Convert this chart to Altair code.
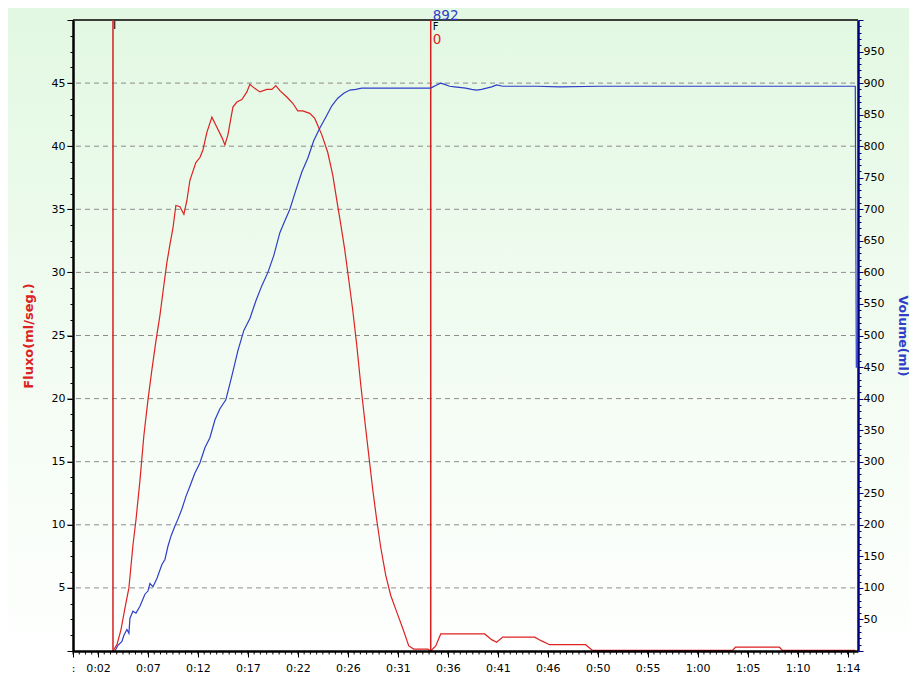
import altair as alt
import pandas as pd

# ---------------- data ----------------
FLOW_T = [3.84, 4.22, 4.61, 4.99, 5.37, 5.76, 6.05, 6.43, 6.81, 7.20, 7.58, 7.97, 8.35, 8.73,
          9.02, 9.31, 9.60, 9.88, 10.27, 10.65, 10.94, 11.23, 11.80, 12.19, 12.48, 12.86, 13.34,
          13.82, 14.30, 14.59, 14.88, 15.36, 15.74, 16.22, 16.70, 16.99, 17.27, 17.95, 18.62,
          19.10, 19.48, 19.87, 20.54, 21.11, 21.59, 22.07, 22.74, 23.22, 23.90, 24.47, 24.95,
          25.34, 25.72, 26.10, 26.49, 26.87, 27.26, 27.64, 28.02, 28.41, 28.79, 29.17, 29.56,
          30.04, 30.52, 31.09, 31.67, 32.25, 32.73, 34.07, 34.36, 34.84, 35.32, 39.54, 40.21,
          40.69, 41.27, 44.34, 45.01, 45.78, 49.23, 49.90, 63.34, 63.63, 67.85, 68.14, 75.14]
FLOW_V = [0.0, 0.5, 1.7, 3.4, 5.0, 8.4, 10.4, 13.5, 17.1, 19.9, 22.3, 24.6, 26.6, 29.0,
          30.8, 32.2, 33.5, 35.3, 35.2, 34.6, 35.7, 37.3, 38.7, 39.1, 39.7, 41.1, 42.3,
          41.5, 40.7, 40.1, 40.9, 43.1, 43.5, 43.7, 44.3, 44.9, 44.7, 44.3, 44.5,
          44.5, 44.8, 44.4, 43.9, 43.4, 42.8, 42.8, 42.6, 42.2, 40.9, 39.5, 37.7,
          35.7, 33.8, 31.8, 29.4, 27.0, 24.2, 21.1, 18.3, 15.5, 12.8, 10.4, 8.2,
          6.0, 4.4, 3.1, 1.8, 0.4, 0.15, 0.15, 0.0, 0.4, 1.35, 1.35, 0.9,
          0.7, 1.1, 1.1, 0.8, 0.5, 0.5, 0.05, 0.05, 0.3, 0.3, 0.05, 0.05]

VOL_T = [3.84, 4.03, 4.32, 4.70, 4.89, 5.18, 5.37, 5.47, 5.76, 6.05, 6.43, 6.91, 7.20, 7.39,
         7.68, 8.06, 8.54, 8.83, 9.12, 9.41, 9.79, 10.08, 10.46, 10.85, 11.23, 11.71, 12.19,
         12.67, 13.15, 13.63, 14.11, 14.68, 15.26, 15.84, 16.41, 16.99, 17.57, 18.14, 18.72,
         19.29, 19.87, 20.35, 20.83, 21.40, 21.98, 22.55, 23.13, 23.71, 24.28, 24.86, 25.43,
         26.01, 26.59, 27.16, 27.74, 34.36, 34.93, 35.32, 35.70, 36.18, 36.66, 37.72, 38.29,
         38.77, 39.25, 39.73, 40.21, 40.69, 41.27, 44.53, 46.74, 50.58, 55.37, 60.17, 64.97,
         75.14, 75.24]
VOL_V = [0, 0, 9, 15, 25, 34, 28, 52, 63, 60, 71, 90, 95, 107,
         102, 115, 137, 145, 166, 182, 198, 209, 225, 245, 261, 282, 298,
         322, 338, 366, 384, 398, 436, 476, 508, 527, 555, 579, 600,
         627, 663, 682, 700, 730, 759, 781, 809, 829, 846, 864, 876,
         884, 889, 890, 892, 892, 897, 900, 898, 895, 894, 892, 890,
         889, 890, 892, 894, 897, 895, 895, 894, 895, 895, 895, 895,
         895, 449]

MARK_T = [3.84, 34.36]
MARK_NAMES = ["I", "F"]
F_VOLUME_LABEL = ["892"]
F_FLOW_LABEL = ["0"]

X_TICK_POS = [0, 2.4, 7.2, 12.0, 16.8, 21.6, 26.4, 31.2, 36.0, 40.8, 45.6, 50.4, 55.2,
              60.0, 64.8, 69.6, 74.4]
X_TICK_LABELS = [":", "0:02", "0:07", "0:12", "0:17", "0:22", "0:26", "0:31", "0:36",
                 "0:41", "0:46", "0:50", "0:55", "1:00", "1:05", "1:10", "1:14"]
X_MINOR_STEP = 0.6
FLOW_GRID = [5, 10, 15, 20, 25, 30, 35, 40, 45]

# ---------------- layout ----------------
W, H = 785, 631
FONT = "DejaVu Sans"
RED = "#dd2222"
BLUE = "#2e3ec8"

flow_df = pd.DataFrame({"t": FLOW_T, "flow": FLOW_V})
vol_df = pd.DataFrame({"t": VOL_T, "vol": VOL_V})
mark_df = pd.DataFrame({"t": MARK_T, "name": MARK_NAMES})
grid_df = pd.DataFrame({"t": [0.0] * len(FLOW_GRID), "g": FLOW_GRID})
dummy = pd.DataFrame({"t": [0.0]})
f_df = pd.DataFrame({"t": [MARK_T[1]], "vol": F_VOLUME_LABEL, "flow": F_FLOW_LABEL, "name": ["F"]})
i_df = pd.DataFrame({"t": [MARK_T[0]], "name": ["I"]})
x_minor_df = pd.DataFrame({"t": [round(X_MINOR_STEP * k, 1) for k in range(0, 126)]})

x_label_expr = " : ".join(
    f"datum.value == {repr(v)} ? '{lab}'" for v, lab in zip(X_TICK_POS, X_TICK_LABELS)
) + " : ''"

x_scale = alt.Scale(domain=[0, 75.4], nice=False, zero=False)
x_axis = alt.Axis(
    values=X_TICK_POS, labelExpr=x_label_expr, title="", grid=False,
    domainColor="black", domainWidth=2.5, tickColor="black", tickWidth=1, tickSize=6,
    labelFont=FONT, labelFontSize=11, labelColor="black", labelPadding=5,
    labelOverlap=False, labelFlush=False, labelBound=False, zindex=2,
)


def X():
    return alt.X("t:Q", scale=x_scale, axis=x_axis)


flow_scale = alt.Scale(domain=[0, 50], nice=False, zero=True)
flow_axis = alt.Axis(
    orient="left", values=[1.25 * k for k in range(0, 41)],
    labelExpr="(datum.value % 5 == 0 && datum.value > 0 && datum.value < 50) ? datum.value : ''",
    grid=False, domainColor="black", domainWidth=2.5, tickColor="black",
    tickSize={"condition": {"test": "datum.value % 5 == 0", "value": 6}, "value": 3},
    labelFont=FONT, labelFontSize=11, labelColor="black", labelPadding=2,
    labelOverlap=False, labelFlush=False, labelBound=False,
    title="Fluxo(ml/seg.)", titleColor=RED, titleFont=FONT, titleFontSize=13,
    titleFontWeight="bold", titleAngle=270, titleAlign="center", titleBaseline="middle",
    titleX=-45, titleY=H / 2, zindex=2,
)

vol_scale = alt.Scale(domain=[0, 1000], nice=False, zero=True)
vol_axis = alt.Axis(
    orient="right", values=list(range(0, 1001, 10)),
    labelExpr="(datum.value % 50 == 0 && datum.value > 0 && datum.value < 1000) ? datum.value : ''",
    grid=False, domainColor="#00007a", domainWidth=2.5, tickColor="#00007a",
    tickSize={"condition": {"test": "datum.value % 50 == 0", "value": 5}, "value": 3},
    labelFont=FONT, labelFontSize=11, labelColor="black", labelPadding=0,
    labelOverlap=False, labelFlush=False, labelBound=False,
    title="Volume(ml)", titleColor=BLUE, titleFont=FONT, titleFontSize=12.5,
    titleFontWeight="bold", titleAngle=90, titleAlign="center", titleBaseline="middle",
    titleX=44, titleY=H / 2, zindex=2,
)

gradient = alt.LinearGradient(
    gradient="linear",
    stops=[alt.GradientStop(color="#e2f8e2", offset=0),
           alt.GradientStop(color="#f3fcf3", offset=0.55),
           alt.GradientStop(color="#ffffff", offset=1)],
    x1=0, x2=0, y1=0, y2=1,
)

bg = alt.Chart(dummy).mark_rect(color=gradient).encode(
    x=alt.value(-65), x2=alt.value(836), y=alt.value(-12), y2=alt.value(654)
)

grid = alt.Chart(grid_df).mark_rule(color="#8c8c8c", strokeDash=[5, 4], strokeWidth=1).encode(
    y=alt.Y("g:Q", scale=flow_scale, axis=None),
    x=alt.value(-6), x2=alt.value(W),
)

x_minor = alt.Chart(x_minor_df).mark_rule(color="black", strokeWidth=1).encode(
    x=X(), y=alt.value(H), y2=alt.value(H + 3.5),
)

top_border = alt.Chart(dummy).mark_rule(color="black", strokeWidth=1.5).encode(
    x=alt.value(0), x2=alt.value(W), y=alt.value(0)
)

flow_line = alt.Chart(flow_df).mark_line(color=RED, strokeWidth=1.2).encode(
    x=X(), y=alt.Y("flow:Q", scale=flow_scale, axis=flow_axis),
)

vol_line = alt.Chart(vol_df).mark_line(color=BLUE, strokeWidth=1.2).encode(
    x=X(), y=alt.Y("vol:Q", scale=vol_scale, axis=vol_axis),
)

markers = alt.Chart(mark_df).mark_rule(color="#d42020", strokeWidth=1.5).encode(
    x=X(), y=alt.value(0), y2=alt.value(H)
)

i_text = alt.Chart(i_df).mark_text(font=FONT, fontSize=11, color="black", align="left",
                                   baseline="top", dx=0).encode(
    x=X(), y=alt.value(0), text="name:N"
)
f_text = alt.Chart(f_df).mark_text(font=FONT, fontSize=10, color="black", align="left",
                                   baseline="alphabetic", dx=2).encode(
    x=X(), y=alt.value(10), text="name:N"
)
vol_text = alt.Chart(f_df).mark_text(font=FONT, fontSize=13.5, color=BLUE, align="left",
                                     baseline="alphabetic", dx=2).encode(
    x=X(), y=alt.value(-0.5), text="vol:N"
)
flow_text = alt.Chart(f_df).mark_text(font=FONT, fontSize=13.5, color=RED, align="left",
                                      baseline="top", dx=2).encode(
    x=X(), y=alt.value(12.5), text="flow:N"
)

chart = alt.layer(
    bg, grid, x_minor, top_border, markers, flow_line, vol_line,
    i_text, f_text, vol_text, flow_text
).resolve_scale(y="independent").properties(
    width=W, height=H,
    autosize=alt.AutoSizeParams(type="none"),
    padding={"left": 73, "top": 20, "right": 51, "bottom": 23},
    background="white",
).configure_view(strokeWidth=0)

chart.save("out.html", embed_options={"renderer": "svg", "actions": False})
